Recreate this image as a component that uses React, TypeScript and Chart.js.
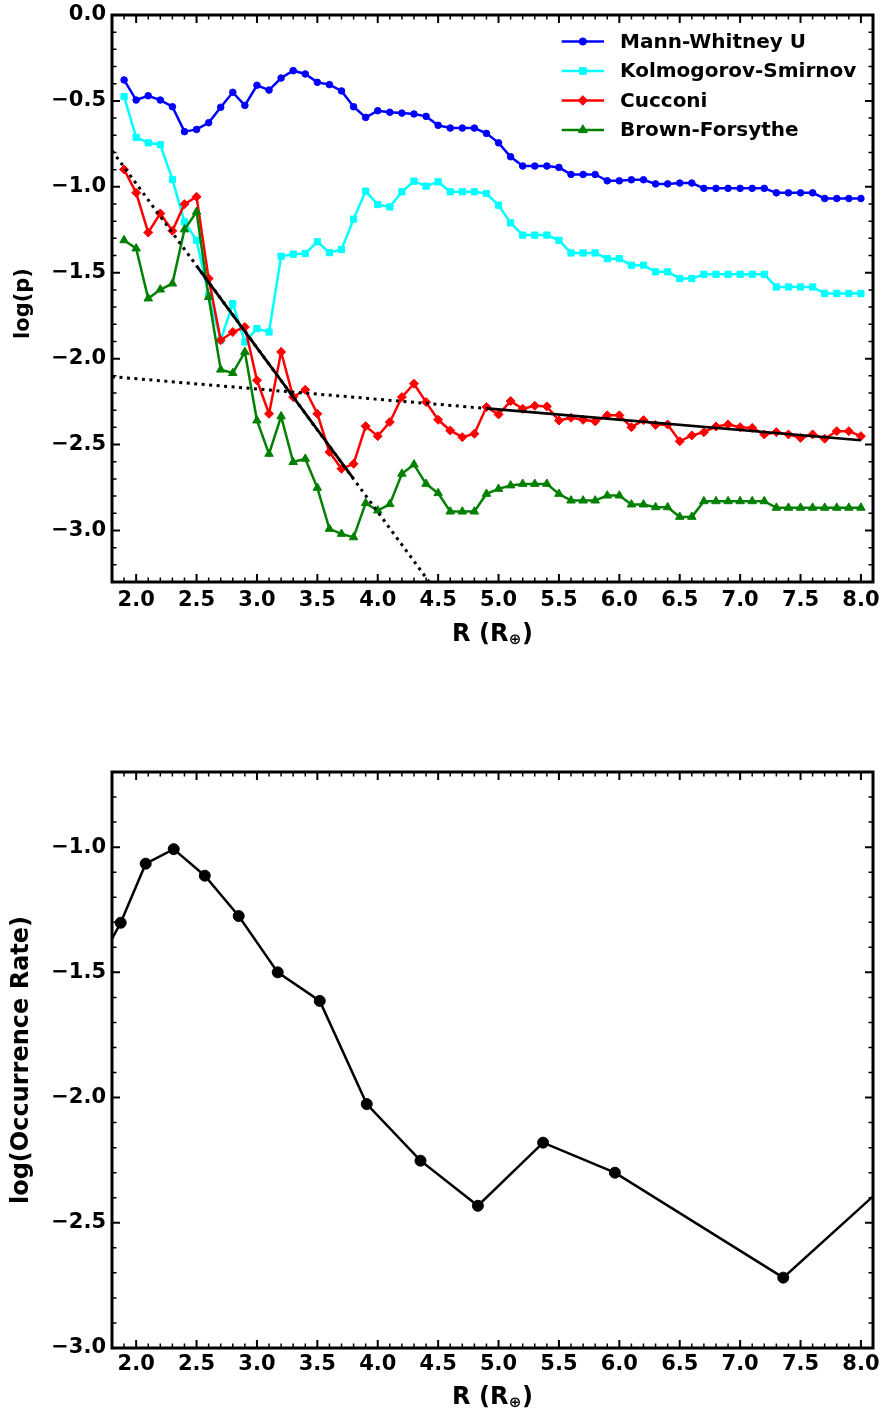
import React, { useEffect, useRef } from "react";
import { Chart, registerables } from "chart.js";

Chart.register(...registerables);

const FONT = "'DejaVu Sans', 'Liberation Sans', sans-serif";

// ---------- Top panel data (log p versus R) ----------
const radii = [
  1.9, 2.0, 2.1, 2.2, 2.3, 2.4, 2.5, 2.6, 2.7, 2.8,
  2.9, 3.0, 3.1, 3.2, 3.3, 3.4, 3.5, 3.6, 3.7, 3.8,
  3.9, 4.0, 4.1, 4.2, 4.3, 4.4, 4.5, 4.6, 4.7, 4.8,
  4.9, 5.0, 5.1, 5.2, 5.3, 5.4, 5.5, 5.6, 5.7, 5.8,
  5.9, 6.0, 6.1, 6.2, 6.3, 6.4, 6.5, 6.6, 6.7, 6.8,
  6.9, 7.0, 7.1, 7.2, 7.3, 7.4, 7.5, 7.6, 7.7, 7.8,
  7.9, 8.0,
];

const mannWhitney = [
  -0.378, -0.495, -0.470, -0.495, -0.534, -0.679, -0.666, -0.627, -0.537, -0.450,
  -0.526, -0.409, -0.437, -0.367, -0.324, -0.343, -0.392, -0.405, -0.442, -0.534,
  -0.596, -0.557, -0.566, -0.571, -0.576, -0.590, -0.642, -0.658, -0.658, -0.658,
  -0.689, -0.744, -0.825, -0.879, -0.879, -0.879, -0.887, -0.928, -0.928, -0.928,
  -0.965, -0.965, -0.959, -0.959, -0.983, -0.983, -0.978, -0.978, -1.009, -1.009,
  -1.009, -1.009, -1.009, -1.009, -1.035, -1.035, -1.035, -1.035, -1.068, -1.068,
  -1.068, -1.068,
];

const kolmogorovSmirnov = [
  -0.475, -0.712, -0.744, -0.755, -0.957, -1.204, -1.311, -1.631, -1.893, -1.680,
  -1.903, -1.825, -1.845, -1.404, -1.392, -1.388, -1.320, -1.383, -1.365, -1.188,
  -1.025, -1.103, -1.117, -1.029, -0.967, -0.996, -0.971, -1.029, -1.029, -1.029,
  -1.039, -1.107, -1.210, -1.281, -1.281, -1.281, -1.311, -1.385, -1.385, -1.385,
  -1.418, -1.418, -1.456, -1.456, -1.495, -1.495, -1.534, -1.534, -1.509, -1.509,
  -1.509, -1.509, -1.509, -1.509, -1.583, -1.583, -1.583, -1.583, -1.621, -1.621,
  -1.621, -1.621,
];

const cucconi = [
  -0.899, -1.035, -1.266, -1.155, -1.256, -1.101, -1.058, -1.534, -1.893, -1.845,
  -1.816, -2.126, -2.321, -1.961, -2.224, -2.181, -2.321, -2.544, -2.641, -2.612,
  -2.393, -2.451, -2.369, -2.224, -2.146, -2.253, -2.356, -2.418, -2.457, -2.437,
  -2.282, -2.325, -2.247, -2.292, -2.274, -2.278, -2.360, -2.344, -2.356, -2.365,
  -2.330, -2.330, -2.399, -2.358, -2.386, -2.383, -2.481, -2.447, -2.428, -2.395,
  -2.383, -2.399, -2.403, -2.441, -2.428, -2.441, -2.461, -2.441, -2.466, -2.422,
  -2.422, -2.451,
];

const brownForsythe = [
  -1.311, -1.359, -1.650, -1.598, -1.563, -1.248, -1.146, -1.641, -2.064, -2.084,
  -1.961, -2.360, -2.554, -2.336, -2.602, -2.583, -2.752, -2.991, -3.020, -3.040,
  -2.841, -2.884, -2.847, -2.670, -2.616, -2.729, -2.783, -2.890, -2.890, -2.890,
  -2.787, -2.758, -2.738, -2.729, -2.729, -2.729, -2.787, -2.826, -2.826, -2.826,
  -2.797, -2.797, -2.849, -2.849, -2.865, -2.865, -2.921, -2.921, -2.830, -2.830,
  -2.830, -2.830, -2.830, -2.830, -2.868, -2.868, -2.868, -2.868, -2.868, -2.868,
  -2.868, -2.868,
];

const seriesNames = ["Mann-Whitney U", "Kolmogorov-Smirnov", "Cucconi", "Brown-Forsythe"];
const seriesColors = ["#0000ff", "#00ffff", "#ff0000", "#008000"];
const seriesMarkers = ["circle", "rect", "rectRot", "triangle"];
const seriesMarkerRadius = [3.3, 4.4, 4.5, 4.9];

// Fitted lines (endpoints)
const steepFitDottedX = [1.8, 4.5];
const steepFitDottedY = [-0.79, -3.37];
const steepFitSolidX = [2.5, 3.8];
const steepFitSolidY = [-1.46, -2.70];
const shallowFitDottedX = [1.8, 4.9];
const shallowFitDottedY = [-2.105, -2.29];
const shallowFitSolidX = [4.9, 8.0];
const shallowFitSolidY = [-2.29, -2.475];

// ---------- Bottom panel data (occurrence rate) ----------
const occRadius = [1.685, 1.872, 2.079, 2.311, 2.568, 2.849, 3.172, 3.520, 3.909, 4.354, 4.829, 5.369, 5.963, 7.357, 8.174];
const occRate = [-1.47, -1.302, -1.066, -1.008, -1.114, -1.275, -1.500, -1.614, -2.026, -2.252, -2.432, -2.180, -2.300, -2.719, -2.362];

// ---------- Axes ----------
const xTickValues = [2.0, 2.5, 3.0, 3.5, 4.0, 4.5, 5.0, 5.5, 6.0, 6.5, 7.0, 7.5, 8.0];
const pTickValues = [0.0, -0.5, -1.0, -1.5, -2.0, -2.5, -3.0];
const occTickValues = [-1.0, -1.5, -2.0, -2.5, -3.0];
const xRange = [1.8, 8.1];
const pRange = [-3.3, 0.0];
const occRange = [-3.0, -0.7];

const fmt = (v: number) => (v < 0 ? "\u2212" : "") + Math.abs(v).toFixed(1);
const pts = (xs: number[], ys: number[]) => xs.map((x, i) => ({ x, y: ys[i] }));

// ---------- Plugins ----------
const frameTicks = {
  id: "frameTicks",
  afterDraw(chart: any) {
    const { ctx, chartArea: a } = chart;
    const xs = chart.scales.x;
    const ys = chart.scales.y;
    ctx.save();
    ctx.strokeStyle = "#000";
    ctx.lineCap = "butt";
    const isMajor = (v: number) => Math.abs(v * 2 - Math.round(v * 2)) < 1e-6;
    for (let k = Math.ceil(xs.min * 10 - 1e-6); k <= Math.floor(xs.max * 10 + 1e-6); k++) {
      const v = k / 10;
      const major = isMajor(v);
      const len = major ? 8 : 4.5;
      ctx.lineWidth = major ? 2 : 1.5;
      const p = xs.getPixelForValue(v);
      ctx.beginPath();
      ctx.moveTo(p, a.bottom);
      ctx.lineTo(p, a.bottom - len);
      ctx.moveTo(p, a.top);
      ctx.lineTo(p, a.top + len);
      ctx.stroke();
    }
    for (let k = Math.ceil(ys.min * 10 - 1e-6); k <= Math.floor(ys.max * 10 + 1e-6); k++) {
      const v = k / 10;
      const major = isMajor(v);
      const len = major ? 8 : 4.5;
      ctx.lineWidth = major ? 2 : 1.5;
      const p = ys.getPixelForValue(v);
      ctx.beginPath();
      ctx.moveTo(a.left, p);
      ctx.lineTo(a.left + len, p);
      ctx.moveTo(a.right, p);
      ctx.lineTo(a.right - len, p);
      ctx.stroke();
    }
    ctx.lineWidth = 3;
    ctx.strokeRect(a.left, a.top, a.right - a.left, a.bottom - a.top);
    ctx.restore();
  },
};

const axisTitles = {
  id: "axisTitles",
  afterDraw(chart: any, _args: any, opts: any) {
    const { ctx, chartArea: a } = chart;
    const main = "bold 24px " + FONT;
    const sub = "bold 15px " + FONT;
    const base = a.bottom + opts.xOffset;
    ctx.save();
    ctx.fillStyle = "#000";
    // x title: R (R⊕) with a subscript
    ctx.textBaseline = "alphabetic";
    ctx.textAlign = "left";
    ctx.font = main;
    const w1 = ctx.measureText("R (R").width;
    const w3 = ctx.measureText(")").width;
    ctx.font = sub;
    const w2 = ctx.measureText("\u2295").width;
    const total = w1 + w2 + w3 + 1;
    let x = (a.left + a.right) / 2 - total / 2;
    ctx.font = main;
    ctx.fillText("R (R", x, base);
    x += w1;
    ctx.font = sub;
    ctx.fillText("\u2295", x + 0.5, base + 3.5);
    x += w2 + 1;
    ctx.font = main;
    ctx.fillText(")", x, base);
    // y title (rotated)
    ctx.translate(opts.yX, (a.top + a.bottom) / 2 + opts.yShift);
    ctx.rotate(-Math.PI / 2);
    ctx.font = "bold " + opts.ySize + "px " + FONT;
    ctx.textAlign = "center";
    ctx.textBaseline = "middle";
    ctx.fillText(opts.yText, 0, 0);
    ctx.restore();
  },
};

const drawMarker = (ctx: any, style: string, x: number, y: number, r: number) => {
  ctx.beginPath();
  if (style === "circle") {
    ctx.arc(x, y, r, 0, Math.PI * 2);
  } else if (style === "rect") {
    const s = r * Math.SQRT1_2;
    ctx.rect(x - s, y - s, 2 * s, 2 * s);
  } else if (style === "rectRot") {
    ctx.moveTo(x - r, y);
    ctx.lineTo(x, y - r);
    ctx.lineTo(x + r, y);
    ctx.lineTo(x, y + r);
    ctx.closePath();
  } else {
    const t = (2 * Math.PI) / 3;
    ctx.moveTo(x, y - r);
    ctx.lineTo(x + Math.sin(t) * r, y - Math.cos(t) * r);
    ctx.lineTo(x + Math.sin(2 * t) * r, y - Math.cos(2 * t) * r);
    ctx.closePath();
  }
  ctx.fill();
  ctx.stroke();
};

const seriesLegend = {
  id: "seriesLegend",
  afterDraw(chart: any, _args: any, opts: any) {
    if (!opts || !opts.show) return;
    const { ctx } = chart;
    ctx.save();
    ctx.font = "bold 20px " + FONT;
    ctx.textBaseline = "middle";
    ctx.textAlign = "left";
    seriesNames.forEach((name, i) => {
      const y = opts.y0 + i * opts.dy;
      ctx.strokeStyle = seriesColors[i];
      ctx.fillStyle = seriesColors[i];
      ctx.lineWidth = 2.5;
      ctx.beginPath();
      ctx.moveTo(opts.x0, y);
      ctx.lineTo(opts.x1, y);
      ctx.stroke();
      ctx.lineWidth = 1;
      drawMarker(ctx, seriesMarkers[i], (opts.x0 + opts.x1) / 2, y, seriesMarkerRadius[i] + 0.3);
      ctx.fillStyle = "#000";
      ctx.fillText(name, opts.textX, y + 1);
    });
    ctx.restore();
  },
};

const tickFont = { family: FONT, size: 21, weight: "bold" as const };

const makeScales = (yRange: number[], yTicks: number[], xHeight: number, xTickPad: number) => ({
  x: {
    type: "linear" as const,
    min: xRange[0],
    max: xRange[1],
    grid: { display: false, drawTicks: false },
    border: { display: false },
    ticks: {
      font: tickFont,
      color: "#000",
      padding: xTickPad,
      autoSkip: false,
      maxRotation: 0,
      callback: (v: any) => fmt(Number(v)),
    },
    afterBuildTicks: (s: any) => {
      s.ticks = xTickValues.map((v) => ({ value: v }));
    },
    afterFit: (s: any) => {
      s.height = xHeight;
      s.paddingLeft = 0;
      s.paddingRight = 0;
    },
  },
  y: {
    type: "linear" as const,
    min: yRange[0],
    max: yRange[1],
    grid: { display: false, drawTicks: false },
    border: { display: false },
    ticks: {
      font: tickFont,
      color: "#000",
      padding: 6,
      autoSkip: false,
      callback: (v: any) => fmt(Number(v)),
    },
    afterBuildTicks: (s: any) => {
      s.ticks = yTicks.map((v) => ({ value: v }));
    },
    afterFit: (s: any) => {
      s.width = 112;
      s.paddingTop = 0;
      s.paddingBottom = 0;
    },
  },
});

function TopChart() {
  const ref = useRef<HTMLCanvasElement>(null);
  useEffect(() => {
    const seriesData = [mannWhitney, kolmogorovSmirnov, cucconi, brownForsythe];
    const fitLine = (xs: number[], ys: number[], dotted: boolean) => ({
      label: "",
      data: pts(xs, ys),
      borderColor: "#000",
      borderWidth: dotted ? 3 : 2.7,
      borderDash: dotted ? [3, 4.5] : [],
      pointRadius: 0,
      fill: false,
      tension: 0,
    });
    const chart = new Chart(ref.current as HTMLCanvasElement, {
      type: "line",
      data: {
        datasets: [
          fitLine(steepFitSolidX, steepFitSolidY, false),
          fitLine(shallowFitSolidX, shallowFitSolidY, false),
          fitLine(steepFitDottedX, steepFitDottedY, true),
          fitLine(shallowFitDottedX, shallowFitDottedY, true),
          ...[3, 2, 1, 0].map((i) => ({
            label: seriesNames[i],
            data: pts(radii, seriesData[i]),
            borderColor: seriesColors[i],
            backgroundColor: seriesColors[i],
            borderWidth: 2.5,
            pointStyle: seriesMarkers[i] as any,
            pointRadius: seriesMarkerRadius[i],
            pointBorderWidth: 1,
            pointBackgroundColor: seriesColors[i],
            pointBorderColor: seriesColors[i],
            tension: 0,
            fill: false,
          })),
        ],
      },
      options: {
        responsive: false,
        animation: false,
        devicePixelRatio: 1,
        events: [],
        layout: { padding: { left: 0, right: 11, top: 15, bottom: 0 } },
        scales: makeScales(pRange, pTickValues, 118, 6) as any,
        plugins: {
          legend: { display: false },
          tooltip: { enabled: false },
          seriesLegend: { show: true, x0: 561.7, x1: 604, textX: 620, y0: 41.5, dy: 29.5 },
          axisTitles: { xOffset: 58.5, yText: "log(p)", ySize: 21, yX: 24, yShift: 5 },
        } as any,
      },
      plugins: [frameTicks, axisTitles, seriesLegend],
    });
    return () => chart.destroy();
  }, []);
  return (
    <canvas
      ref={ref}
      width={884}
      height={700}
      style={{ position: "absolute", left: 0, top: 0, width: 884, height: 700 }}
    />
  );
}

function BottomChart() {
  const ref = useRef<HTMLCanvasElement>(null);
  useEffect(() => {
    const chart = new Chart(ref.current as HTMLCanvasElement, {
      type: "line",
      data: {
        datasets: [
          {
            label: "Occurrence rate",
            data: pts(occRadius, occRate),
            borderColor: "#000",
            backgroundColor: "#000",
            borderWidth: 2.5,
            pointRadius: 5.5,
            pointBorderWidth: 1,
            pointBackgroundColor: "#000",
            pointBorderColor: "#000",
            tension: 0,
            fill: false,
          },
        ],
      },
      options: {
        responsive: false,
        animation: false,
        devicePixelRatio: 1,
        events: [],
        layout: { padding: { left: 0, right: 11, top: 72, bottom: 0 } },
        scales: makeScales(occRange, occTickValues, 64, 4) as any,
        plugins: {
          legend: { display: false },
          tooltip: { enabled: false },
          seriesLegend: { show: false },
          axisTitles: { xOffset: 55.5, yText: "log(Occurrence Rate)", ySize: 24, yX: 22, yShift: 0 },
        } as any,
      },
      plugins: [frameTicks, axisTitles, seriesLegend],
    });
    return () => chart.destroy();
  }, []);
  return (
    <canvas
      ref={ref}
      width={884}
      height={712}
      style={{ position: "absolute", left: 0, top: 700, width: 884, height: 712 }}
    />
  );
}

export default function App() {
  return (
    <div
      style={{
        position: "absolute",
        left: 0,
        top: 0,
        width: 884,
        height: 1412,
        background: "#fff",
        overflow: "hidden",
      }}
    >
      <TopChart />
      <BottomChart />
    </div>
  );
}
